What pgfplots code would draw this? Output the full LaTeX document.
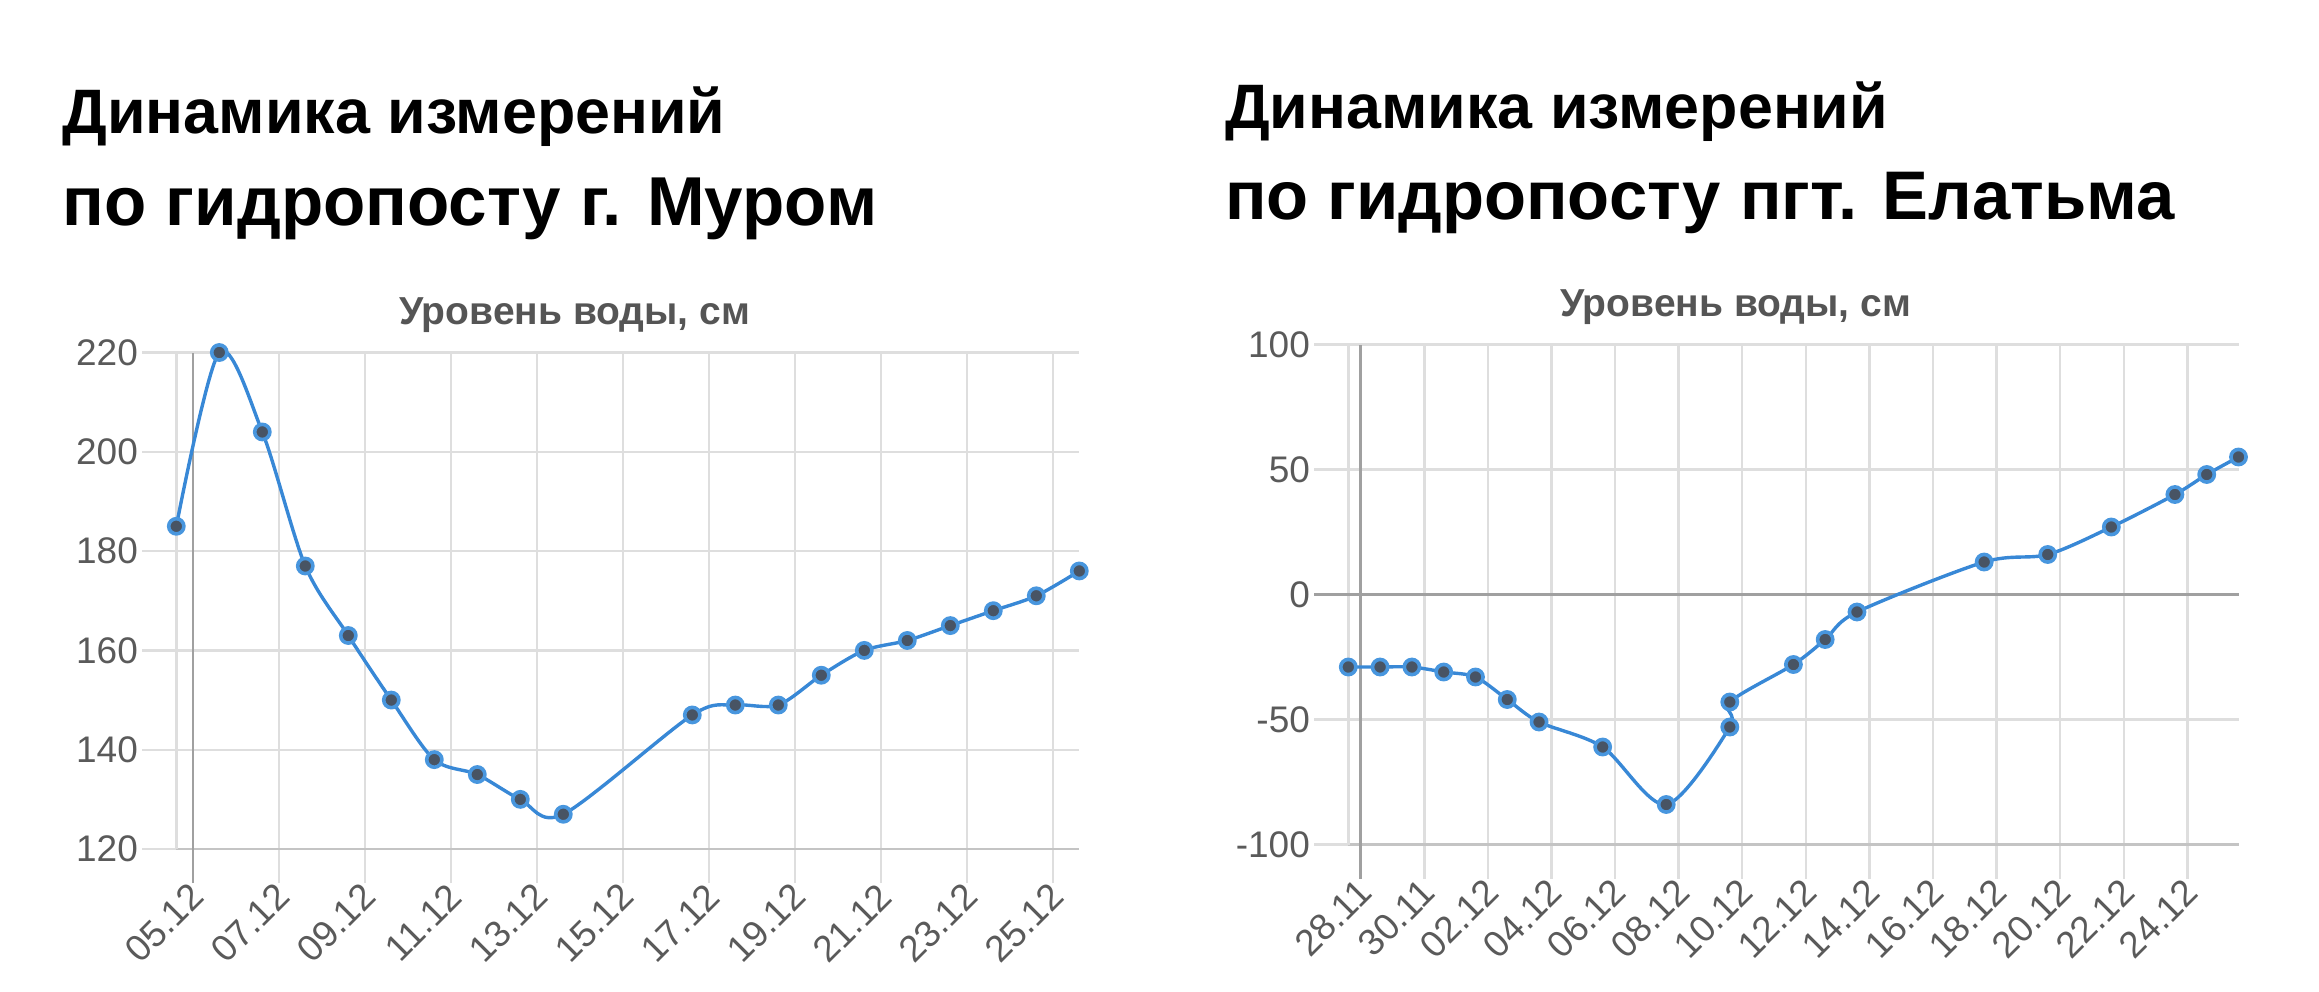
\documentclass[border=0pt]{standalone}
\usepackage{pgfplots}
\pgfplotsset{compat=1.18}
\usepackage{fontspec}
\setmainfont{Liberation Sans}

\definecolor{gridc}{RGB}{222,222,222}
\definecolor{zeroc}{RGB}{160,160,160}
\definecolor{basec}{RGB}{196,196,196}
\definecolor{tickc}{RGB}{90,90,90}
\definecolor{titlec}{RGB}{85,85,85}
\definecolor{linec}{RGB}{56,136,214}
\definecolor{ringc}{RGB}{72,150,222}
\definecolor{markc}{RGB}{72,84,100}

\pgfplotsset{
  chartjs/.style={
    scale only axis, clip=false,
    axis lines=left, axis line style={-},
    x axis line style={basec, line width=1.4pt},
    y axis line style={gridc, line width=1.2pt},
    grid=major, major grid style={gridc, line width=1.2pt},
    tick align=outside, major tick length=17pt,
    major tick style={gridc, line width=1.2pt},
    tick label style={font=\fontsize{18.5}{21}\selectfont, text=tickc},
    xticklabel style={rotate=45, anchor=east, inner sep=1pt, yshift=-4pt},
    yticklabel style={inner sep=2pt},
    extra tick style={major grid style={zeroc, line width=1.4pt},
                      major tick style={zeroc, line width=1.4pt}},
  },
  level/.style={linec, line width=1.7pt, smooth, tension=0.5,
    mark=*, mark size=3.8pt,
    mark options={fill=markc, draw=ringc, line width=1.8pt}},
}

\begin{document}
\begin{tikzpicture}
\useasboundingbox (0,0) rectangle (1159.5pt,-495.5pt);

% headings
\node[anchor=base west, inner sep=0pt, font=\fontsize{31.4}{36}\selectfont\bfseries]
  at (31pt,-66.5pt) {Динамика измерений};
\node[anchor=base west, inner sep=0pt, font=\fontsize{34.6}{40}\selectfont\bfseries]
  at (31pt,-112.5pt) {по гидропосту г. Муром};
\node[anchor=base west, inner sep=0pt, font=\fontsize{31.4}{36}\selectfont\bfseries]
  at (612.3pt,-64.3pt) {Динамика измерений};
\node[anchor=base west, inner sep=0pt, font=\fontsize{34.4}{40}\selectfont\bfseries]
  at (612.3pt,-109.5pt) {по гидропосту пгт. Елатьма};

% chart titles
\node[anchor=base, inner sep=0pt, text=titlec, font=\fontsize{19.5}{23}\selectfont\bfseries]
  at (287.3pt,-162pt) {Уровень воды, см};
\node[anchor=base, inner sep=0pt, text=titlec, font=\fontsize{19.5}{23}\selectfont\bfseries]
  at (867.8pt,-158.3pt) {Уровень воды, см};

% Муром
\begin{axis}[chartjs,
  at={(88.15pt,-424.5pt)}, anchor=south west,
  width=451.5pt, height=248.25pt,
  xmin=4.61, xmax=25.61, ymin=120, ymax=220,
  xtick={5,7,...,25},
  xticklabels={05.12,07.12,09.12,11.12,13.12,15.12,17.12,19.12,21.12,23.12,25.12},
  ytick={120,140,...,220},
  yticklabels={120,140,160,180,200,220},
  extra x ticks={5}, extra x tick labels={},
]
\addplot[level] coordinates {
  (4.61,185) (5.61,220) (6.61,204) (7.61,177) (8.61,163) (9.61,150)
  (10.61,138) (11.61,135) (12.61,130) (13.61,127)
  (16.61,147) (17.61,149) (18.61,149) (19.61,155) (20.61,160)
  (21.61,162) (22.61,165) (23.61,168) (24.61,171) (25.61,176)
};
\end{axis}

% Елатьма
\begin{axis}[chartjs,
  at={(674.15pt,-422.25pt)}, anchor=south west,
  width=445.1pt, height=250pt,
  xmin=27.61, xmax=55.61, ymin=-100, ymax=100,
  xtick={28,30,...,54},
  xticklabels={28.11,30.11,02.12,04.12,06.12,08.12,10.12,12.12,14.12,16.12,18.12,20.12,22.12,24.12},
  ytick={-100,-50,0,50,100},
  yticklabels={-100,-50,0,50,100},
  extra x ticks={28}, extra x tick labels={},
  extra y ticks={0}, extra y tick labels={},
]
\addplot[level] coordinates {
  (27.61,-29) (28.61,-29) (29.61,-29) (30.61,-31) (31.61,-33)
  (32.61,-42) (33.61,-51) (35.61,-61) (37.61,-84)
  (39.61,-53) (39.61,-43) (41.61,-28) (42.61,-18) (43.61,-7)
  (47.61,13) (49.61,16) (51.61,27) (53.61,40) (54.61,48) (55.61,55)
};
\end{axis}
\end{tikzpicture}
\end{document}
